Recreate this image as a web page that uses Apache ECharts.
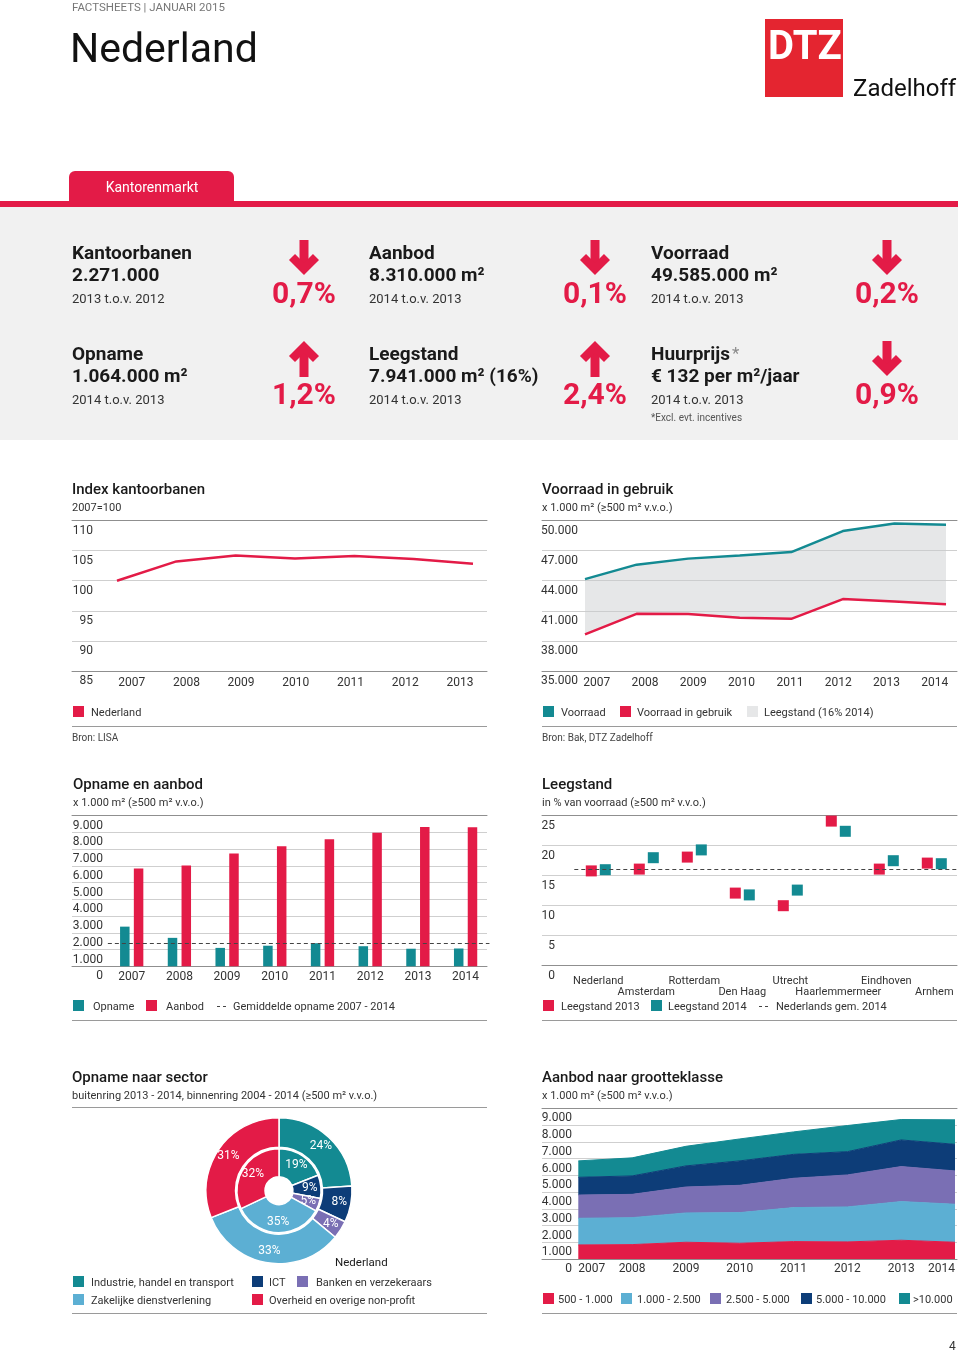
<!DOCTYPE html>
<html lang="nl">
<head>
<meta charset="utf-8">
<title>Nederland – Kantorenmarkt</title>
<script src="https://cdn.jsdelivr.net/npm/echarts@6.0.0/dist/echarts.min.js"></script>
<style>
html,body{margin:0;padding:0;background:#fff;}
#chart{width:960px;height:1352px;}
</style>
</head>
<body>
<div id="chart"></div>
<script>
// ================= DATA =================
const yearsIndex = ['2007','2008','2009','2010','2011','2012','2013'];
const years = ['2007','2008','2009','2010','2011','2012','2013','2014'];

const indexKantoorbanen = [100, 103.2, 104.2, 103.7, 104.1, 103.6, 102.8];

const voorraad = [44160, 45600, 46200, 46500, 46850, 48950, 49700, 49585];
const voorraadInGebruik = [38650, 40700, 40670, 40300, 40200, 42170, 41930, 41644];

const opname = [2370, 1700, 1100, 1230, 1380, 1200, 1050, 1064];
const aanbod = [5840, 6020, 6740, 7180, 7600, 7980, 8320, 8310];

const steden = ['Nederland','Amsterdam','Rotterdam','Den Haag','Utrecht','Haarlemmermeer','Eindhoven','Arnhem'];
const leegstand2013 = [15.8, 16.1, 18.1, 12.1, 10.0, 24.1, 16.1, 17.1];
const leegstand2014 = [16.0, 18.0, 19.3, 11.8, 12.6, 22.4, 17.5, 17.0];
const nederlandsGem2014 = 16;

const sectoren = ['Industrie, handel en transport','ICT','Banken en verzekeraars','Zakelijke dienstverlening','Overheid en overige non-profit'];
const opnameBuitenring = [24, 8, 4, 33, 31];
const opnameBinnenring = [19, 9, 5, 35, 32];

const grootteklassen = ['500 - 1.000','1.000 - 2.500','2.500 - 5.000','5.000 - 10.000','>10.000'];
const aanbod500 = [840, 860, 1000, 940, 1040, 1020, 1120, 1000];
const aanbod1000 = [1590, 1610, 1750, 1830, 2030, 2090, 2310, 2270];
const aanbod2500 = [1390, 1390, 1550, 1630, 1750, 1910, 2090, 1990];
const aanbod5000 = [1060, 1100, 1260, 1460, 1430, 1390, 1590, 1590];
const aanbod10000 = [980, 1080, 1170, 1310, 1340, 1560, 1220, 1460];

const indexTicks = [85, 110, 5];
const voorraadTicks = [35000, 50000, 3000];
const m2Ticks = [0, 9000, 1000];
const leegTicks = [0, 25, 5];

const kpiTitles = ['Kantoorbanen','Aanbod','Voorraad','Opname','Leegstand','Huurprijs'];
const kpiValues = ['2.271.000','8.310.000 m²','49.585.000 m²','1.064.000 m²','7.941.000 m² (16%)','€ 132 per m²/jaar'];
const kpiPeriods = ['2013 t.o.v. 2012','2014 t.o.v. 2013','2014 t.o.v. 2013','2014 t.o.v. 2013','2014 t.o.v. 2013','2014 t.o.v. 2013'];
const kpiChanges = ['0,7%','0,1%','0,2%','1,2%','2,4%','0,9%'];
const kpiDirections = ['down','down','down','up','up','down'];

// ================= STYLE =================
const RED = '#e31b47', TEAL = '#138a92', NAVY = '#0d3d78', PURPLE = '#7a6fb4', LBLUE = '#5cafd3';
const FONT = 'Roboto, "Open Sans", "DejaVu Sans", sans-serif';
const TXT = '#1a1a1a', SUB = '#333';
const TY = 1.5; // vertical nudge for free text

function fmt(v){ return String(v).replace(/\B(?=(\d{3})+(?!\d))/g, '.'); }

// ================= LAYOUT HELPERS =================
const grids = [], xAxes = [], yAxes = [], series = [], G = [];
function addGrid(g){ grids.push(Object.assign({outerBoundsMode:'none', containLabel:false}, g)); return grids.length - 1; }
function addX(a){ xAxes.push(a); return xAxes.length - 1; }
function addY(a){ yAxes.push(a); return yAxes.length - 1; }

function frameGrid(left, top, width, height, ticks, labelMargin, formatter){
  const gi = addGrid({left, top, width, height});
  const ls = {color:'#8f8f8f', width:1};
  ['bottom','top'].forEach(p => addX({gridIndex:gi, type:'value', min:0, max:1, position:p,
    axisLine:{show:true, onZero:false, lineStyle:ls}, axisTick:{show:false}, axisLabel:{show:false}, splitLine:{show:false}}));
  addY({gridIndex:gi, type:'value', min:ticks[0], max:ticks[1], interval:ticks[2],
    axisLine:{show:false}, axisTick:{show:false},
    splitLine:{show:true, lineStyle:{color:'#cfcfcf', width:1}},
    axisLabel:{show:true, margin:labelMargin, align:'right', verticalAlign:'top', padding:[4,0,0,0],
      fontSize:12, color:SUB, fontFamily:FONT, formatter: formatter || null}});
  return gi;
}
function dataGrid(left, top, width, height, xCfg, yMin, yMax){
  const gi = addGrid({left, top, width, height});
  const xi = addX(Object.assign({gridIndex:gi, type:'category', axisLine:{show:false}, axisTick:{show:false}, splitLine:{show:false}}, xCfg));
  const yi = addY({gridIndex:gi, type:'value', min:yMin, max:yMax, show:false});
  return {gi, xi, yi};
}
function lbl(margin, extra){ return Object.assign({show:true, interval:0, margin, fontSize:12, color:SUB, fontFamily:FONT}, extra||{}); }

function txt(x, y, text, size, o){
  o = o || {};
  G.push({type:'text', silent:true, z:10, style:{text, x, y:y + TY, fill:o.color || TXT,
    font:(o.weight || 'normal') + ' ' + size + 'px ' + FONT, textAlign:o.align || 'left', textVerticalAlign:'middle'}});
}
function rect(x, y, w, h, fill, r){ G.push({type:'rect', silent:true, z:5, shape:{x, y, width:w, height:h, r:r||0}, style:{fill}}); }
function hline(x1, x2, y, color, dash){ G.push({type:'line', silent:true, z:6, shape:{x1, y1:y, x2, y2:y}, style:{stroke:color || '#9a9a9a', lineWidth:1, lineDash:dash || null}}); }
function legendSq(x, y, color){ rect(x, y - 6, 11, 11, color); }

// ================= HEADER =================
G.push({type:'rect', silent:true, z:1, shape:{x:0, y:207, width:958, height:233}, style:{fill:'#f1f1f1'}});
txt(72, 7, 'FACTSHEETS | JANUARI 2015', 11.5, {color:'#777'});
txt(70, 50.5, 'Nederland', 41, {color:'#111'});
rect(765, 19, 78, 78, '#e42530');
txt(805, 47.5, 'DTZ', 40, {weight:'bold', color:'#fff', align:'center'});
txt(853, 88, 'Zadelhoff', 24, {color:'#111'});
rect(69, 171, 165, 32, RED, [6,6,0,0]);
txt(152, 186.5, 'Kantorenmarkt', 14, {color:'#fff', align:'center'});
rect(0, 201, 958, 6, RED);

// KPI panel
const colX = [72, 369, 651], arrowX = [304, 595, 887], rowY = [253, 354];
kpiTitles.forEach((t, i) => {
  const c = i % 3, r = Math.floor(i / 3);
  const x = colX[c], y = rowY[r], ax = arrowX[c];
  txt(x, y, t, 19, {weight:'bold'});
  if (t === 'Huurprijs') txt(x + 81, y - 1, '*', 17, {color:'#8a8a8a'});
  txt(x, y + 22, kpiValues[i], 19, {weight:'bold'});
  txt(x, y + 45, kpiPeriods[i], 13, {color:SUB});
  txt(ax, y + 41, kpiChanges[i], 30, {weight:'bold', color:RED, align:'center'});
  const t0 = y - 13;
  if (kpiDirections[i] === 'down') {
    G.push({type:'rect', silent:true, z:5, shape:{x:ax - 4.5, y:t0, width:9, height:26}, style:{fill:RED}});
    G.push({type:'polyline', silent:true, z:5, shape:{points:[[ax - 12, t0 + 17],[ax, t0 + 29],[ax + 12, t0 + 17]]}, style:{stroke:RED, fill:null, lineWidth:8.5, lineJoin:'miter', lineCap:'butt'}});
  } else {
    G.push({type:'rect', silent:true, z:5, shape:{x:ax - 4.5, y:t0 + 9, width:9, height:27}, style:{fill:RED}});
    G.push({type:'polyline', silent:true, z:5, shape:{points:[[ax - 12, t0 + 18],[ax, t0 + 6],[ax + 12, t0 + 18]]}, style:{stroke:RED, fill:null, lineWidth:8.5, lineJoin:'miter', lineCap:'butt'}});
  }
});
txt(651, 417, '*Excl. evt. incentives', 10, {color:'#555'});

// ================= CHART 1: Index kantoorbanen =================
txt(72, 489, 'Index kantoorbanen', 15, {weight:500});
txt(72, 507, '2007=100', 11, {color:SUB});
frameGrid(72, 520.5, 415, 150.5, indexTicks, -21);
const c1 = dataGrid(117, 520.5, 356, 150.5, {data:yearsIndex, boundaryGap:false, axisLabel:{show:false}}, indexTicks[0], indexTicks[1]);
dataGrid(104.35, 520.5, 382.9, 150.5, {data:yearsIndex, boundaryGap:true, axisLabel:lbl(6)}, 0, 1);
series.push({type:'line', name:'Nederland', xAxisIndex:c1.xi, yAxisIndex:c1.yi, data:indexKantoorbanen, symbol:'none', silent:true,
  lineStyle:{color:RED, width:2.5}});
legendSq(73, 712, RED); txt(91, 712, 'Nederland', 11, {color:SUB});
hline(72, 487, 726.5);
txt(72, 737, 'Bron: LISA', 10, {color:'#444'});

// ================= CHART 2: Voorraad in gebruik =================
txt(542, 489, 'Voorraad in gebruik', 15, {weight:500});
txt(542, 507, 'x 1.000 m² (≥500 m² v.v.o.)', 11, {color:SUB});
frameGrid(542, 520.5, 415, 150.5, voorraadTicks, -36, fmt);
const c2 = dataGrid(585, 520.5, 361, 150.5, {data:years, boundaryGap:false, axisLabel:{show:false}}, voorraadTicks[0], voorraadTicks[1]);
dataGrid(572.55, 520.5, 386.4, 150.5, {data:years, boundaryGap:true, axisLabel:lbl(6)}, 0, 1);
series.push({type:'line', name:'basis', xAxisIndex:c2.xi, yAxisIndex:c2.yi, stack:'leeg', data:voorraadInGebruik, symbol:'none', silent:true, lineStyle:{opacity:0}});
series.push({type:'line', name:'Leegstand (16% 2014)', xAxisIndex:c2.xi, yAxisIndex:c2.yi, stack:'leeg', data:voorraad.map((v, i) => v - voorraadInGebruik[i]), symbol:'none', silent:true, lineStyle:{opacity:0}, areaStyle:{color:'#c8cacd', opacity:0.45}});
series.push({type:'line', name:'Voorraad', xAxisIndex:c2.xi, yAxisIndex:c2.yi, data:voorraad, symbol:'none', silent:true, lineStyle:{color:TEAL, width:2.5}});
series.push({type:'line', name:'Voorraad in gebruik', xAxisIndex:c2.xi, yAxisIndex:c2.yi, data:voorraadInGebruik, symbol:'none', silent:true, lineStyle:{color:RED, width:2.5}});
legendSq(543, 712, TEAL); txt(561, 712, 'Voorraad', 11, {color:SUB});
legendSq(620, 712, RED); txt(637, 712, 'Voorraad in gebruik', 11, {color:SUB});
legendSq(747, 712, '#e6e7e8'); txt(764, 712, 'Leegstand (16% 2014)', 11, {color:SUB});
hline(542, 957, 726.5);
txt(542, 737, 'Bron: Bak, DTZ Zadelhoff', 10, {color:'#444'});

// ================= CHART 3: Opname en aanbod =================
txt(73, 784, 'Opname en aanbod', 15, {weight:500});
txt(73, 802, 'x 1.000 m² (≥500 m² v.v.o.)', 11, {color:SUB});
frameGrid(72, 815.7, 415, 150.6, m2Ticks, -31, fmt);
const c3 = dataGrid(107.85, 815.7, 381.6, 150.6, {data:years, boundaryGap:true, axisLabel:lbl(4.5)}, m2Ticks[0], m2Ticks[1]);
const gemOpname = opname.reduce((a, b) => a + b, 0) / opname.length;
series.push({type:'bar', name:'Opname', xAxisIndex:c3.xi, yAxisIndex:c3.yi, data:opname, barWidth:9.5, barGap:'45%', silent:true,
  itemStyle:{color:TEAL},
  markLine:{silent:true, symbol:'none', label:{show:false}, lineStyle:{color:'#444', type:[4,3], width:1}, data:[{yAxis:gemOpname}]}});
series.push({type:'bar', name:'Aanbod', xAxisIndex:c3.xi, yAxisIndex:c3.yi, data:aanbod, barWidth:9.5, silent:true, itemStyle:{color:RED}});
legendSq(73, 1006, TEAL); txt(93, 1006, 'Opname', 11, {color:SUB});
legendSq(146, 1006, RED); txt(166, 1006, 'Aanbod', 11, {color:SUB});
hline(217, 229, 1006.5, '#444', [3,3]); txt(233, 1006, 'Gemiddelde opname 2007 - 2014', 11, {color:SUB});
hline(72, 487, 1020.5);

// ================= CHART 4: Leegstand =================
txt(542, 784, 'Leegstand', 15, {weight:500});
txt(542, 802, 'in % van voorraad (≥500 m² v.v.o.)', 11, {color:SUB});
frameGrid(542, 815.7, 415, 150, leegTicks, -13);
const c4 = dataGrid(574.3, 815.7, 384, 150, {data:steden, boundaryGap:true,
  axisLabel:lbl(10, {fontSize:11, lineHeight:11, formatter:(v, i) => (i % 2 ? '\n' + v : v)})}, leegTicks[0], leegTicks[1]);
series.push({type:'scatter', name:'Leegstand 2013', xAxisIndex:c4.xi, yAxisIndex:c4.yi, data:leegstand2013, symbol:'rect', symbolSize:11, symbolOffset:[-7,0], silent:true,
  itemStyle:{color:RED, opacity:1},
  markLine:{silent:true, symbol:'none', label:{show:false}, lineStyle:{color:'#444', type:[4,3], width:1}, data:[{yAxis:nederlandsGem2014}]}});
series.push({type:'scatter', name:'Leegstand 2014', xAxisIndex:c4.xi, yAxisIndex:c4.yi, data:leegstand2014, symbol:'rect', symbolSize:11, symbolOffset:[7,0], silent:true,
  itemStyle:{color:TEAL, opacity:1}});
legendSq(543, 1006, RED); txt(561, 1006, 'Leegstand 2013', 11, {color:SUB});
legendSq(651, 1006, TEAL); txt(668, 1006, 'Leegstand 2014', 11, {color:SUB});
hline(759, 771, 1006.5, '#444', [3,3]); txt(776, 1006, 'Nederlands gem. 2014', 11, {color:SUB});
hline(542, 957, 1020.5);

// ================= CHART 5: Opname naar sector =================
txt(72, 1077, 'Opname naar sector', 15, {weight:500});
txt(72, 1095, 'buitenring 2013 - 2014, binnenring 2004 - 2014 (≥500 m² v.v.o.)', 11, {color:SUB});
hline(72, 487, 1107.5);
const sectorColors = [TEAL, NAVY, PURPLE, LBLUE, RED];
function ring(name, values, radius){
  series.push({type:'pie', name, center:[279, 1190.7], radius, startAngle:90, clockwise:true, silent:true,
    avoidLabelOverlap:false,
    data: sectoren.map((n, i) => ({name:n, value:values[i], itemStyle:{color:sectorColors[i]}})),
    itemStyle:{borderColor:'#fff', borderWidth:1.5},
    label:{show:true, position:'inside', formatter:'{c}%', color:'#fff', fontSize:12, fontFamily:FONT},
    labelLine:{show:false}, emphasis:{disabled:true}});
}
ring('binnenring', opnameBinnenring, [14, 42]);
ring('buitenring', opnameBuitenring, [43.5, 73]);
txt(335, 1262, 'Nederland', 11.5, {color:TXT});
legendSq(73, 1282, TEAL); txt(91, 1282, sectoren[0], 11, {color:SUB});
legendSq(252, 1282, NAVY); txt(269, 1282, sectoren[1], 11, {color:SUB});
legendSq(297, 1282, PURPLE); txt(316, 1282, sectoren[2], 11, {color:SUB});
legendSq(73, 1300, LBLUE); txt(91, 1300, sectoren[3], 11, {color:SUB});
legendSq(252, 1300, RED); txt(269, 1300, sectoren[4], 11, {color:SUB});
hline(72, 487, 1313.5);

// ================= CHART 6: Aanbod naar grootteklasse =================
txt(542, 1077, 'Aanbod naar grootteklasse', 15, {weight:500});
txt(542, 1095, 'x 1.000 m² (≥500 m² v.v.o.)', 11, {color:SUB});
frameGrid(542, 1108.3, 415, 150.7, m2Ticks, -30, fmt);
const c6 = dataGrid(578.3, 1108.3, 376.7, 150.7, {data:years, boundaryGap:false,
  axisLabel:lbl(4, {alignMinLabel:'left', alignMaxLabel:'right'})}, m2Ticks[0], m2Ticks[1]);
const sizeSeries = [aanbod500, aanbod1000, aanbod2500, aanbod5000, aanbod10000];
const sizeColors = [RED, LBLUE, PURPLE, NAVY, TEAL];
sizeSeries.forEach((d, i) => {
  series.push({type:'line', name:grootteklassen[i], xAxisIndex:c6.xi, yAxisIndex:c6.yi, stack:'grootte', data:d, symbol:'none', silent:true,
    lineStyle:{color:sizeColors[i], width:1}, areaStyle:{color:sizeColors[i], opacity:1}});
});
const legX = [543, 621, 710, 801, 899], legTX = [558, 637, 726, 816, 913];
grootteklassen.forEach((n, i) => { legendSq(legX[i], 1299, sizeColors[i]); txt(legTX[i], 1299, n, 11, {color:SUB}); });
hline(542, 957, 1313.5);

txt(949, 1345, '4', 12, {color:SUB});

// ================= RENDER =================
const chart = echarts.init(document.getElementById('chart'), null, {renderer:'canvas'});
chart.setOption({
  animation:false,
  backgroundColor:'#ffffff',
  textStyle:{fontFamily:FONT},
  grid:grids, xAxis:xAxes, yAxis:yAxes, series,
  graphic:{elements:G}
});
</script>
</body>
</html>
